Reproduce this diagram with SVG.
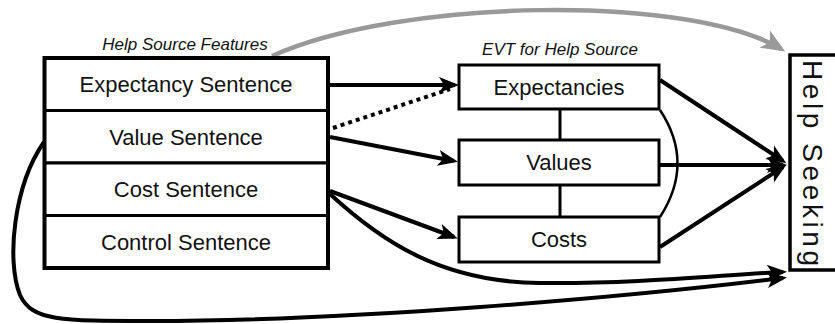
<svg xmlns="http://www.w3.org/2000/svg" width="835" height="324" viewBox="0 0 835 324">
<style>
  .box { fill: #fff; stroke: #000; stroke-width: 3; }
  .outer { fill: none; stroke: #000; stroke-width: 4; }
  .lbl { font-family: "Liberation Sans", Arial, sans-serif; font-size: 22px; fill: #111; text-anchor: middle; }
  .cap { font-family: "Liberation Sans", Arial, sans-serif; font-size: 17px; font-style: italic; fill: #111; text-anchor: middle; }
  .edge { fill: none; stroke: #000; stroke-width: 4; }
  .thin { fill: none; stroke: #000; stroke-width: 2.5; }
  .link { fill: none; stroke: #000; stroke-width: 3; }
  .gray { fill: none; stroke: #999; stroke-width: 4.5; }
  .dots { fill: none; stroke: #000; stroke-width: 4; stroke-dasharray: 4 4; }
</style>
<defs>
  <marker id="ah" markerUnits="userSpaceOnUse" markerWidth="22" markerHeight="18" refX="16" refY="8" orient="auto" overflow="visible">
    <path d="M0,0 L20,8 L0,16 L5,8 z" fill="#000"/>
  </marker>
  <marker id="ahg" markerUnits="userSpaceOnUse" markerWidth="26" markerHeight="22" refX="19" refY="10" orient="auto" overflow="visible">
    <path d="M0,0 L24,10 L0,20 L6,10 z" fill="#999"/>
  </marker>
</defs>
<rect width="835" height="324" fill="#fff"/>

<g id="connectors">
  <path class="gray" d="M272 56 C 400 -2, 690 -6, 781 49" marker-end="url(#ahg)"/>
  <path class="edge" d="M330 85 L 455 85" marker-end="url(#ah)"/>
  <path class="dots" d="M333 128 L 450 89"/>
  <path class="edge" d="M330 137 L 454 161" marker-end="url(#ah)"/>
  <path class="edge" d="M330 191 L 454 237" marker-end="url(#ah)"/>
  <path class="edge" d="M330 194 C 380 240, 440 282, 540 283 C 640 284, 720 275, 783 272" marker-end="url(#ah)"/>
  <path class="edge" d="M44 142 C 14 185, 6 260, 20 295 C 32 321, 60 321, 150 321 C 350 321, 620 298, 783 278" marker-end="url(#ah)"/>
  <path class="edge" d="M660 80 L 783 161" marker-end="url(#ah)"/>
  <path class="edge" d="M660 165 L 783 165" marker-end="url(#ah)"/>
  <path class="edge" d="M660 247 L 783 167" marker-end="url(#ah)"/>
  <path class="link" d="M560 109 L 560 140"/>
  <path class="link" d="M560 185 L 560 217"/>
  <path class="thin" d="M660 110 Q 695 163 660 217"/>
</g>

<g id="help-source-features">
  <text class="cap" x="185" y="50">Help Source Features</text>
  <g id="expectancy-sentence">
    <rect class="box" x="44.5" y="58" width="283.5" height="52.5"/>
    <text class="lbl" x="186" y="92">Expectancy Sentence</text>
  </g>
  <g id="value-sentence">
    <rect class="box" x="44.5" y="110.5" width="283.5" height="52.5"/>
    <text class="lbl" x="186" y="145">Value Sentence</text>
  </g>
  <g id="cost-sentence">
    <rect class="box" x="44.5" y="163" width="283.5" height="52.5"/>
    <text class="lbl" x="186" y="197">Cost Sentence</text>
  </g>
  <g id="control-sentence">
    <rect class="box" x="44.5" y="215.5" width="283.5" height="52.5"/>
    <text class="lbl" x="186" y="250">Control Sentence</text>
  </g>
  <rect class="outer" x="44.5" y="58" width="283.5" height="210"/>
</g>

<g id="evt-for-help-source">
  <text class="cap" x="560" y="55">EVT for Help Source</text>
  <g id="expectancies">
    <rect class="box" x="459" y="65" width="200" height="44"/>
    <text class="lbl" x="559" y="95">Expectancies</text>
  </g>
  <g id="values">
    <rect class="box" x="459" y="140" width="200" height="45"/>
    <text class="lbl" x="559" y="170">Values</text>
  </g>
  <g id="costs">
    <rect class="box" x="459" y="217" width="200" height="45"/>
    <text class="lbl" x="559" y="247">Costs</text>
  </g>
</g>

<g id="help-seeking">
  <rect fill="#fff" stroke="#000" stroke-width="3.5" x="790" y="55" width="60" height="215"/>
  <text font-family="'Liberation Sans', Arial, sans-serif" font-size="28" fill="#111" transform="translate(803 60) rotate(90)" textLength="206" lengthAdjust="spacing">Help Seeking</text>
</g>
</svg>
